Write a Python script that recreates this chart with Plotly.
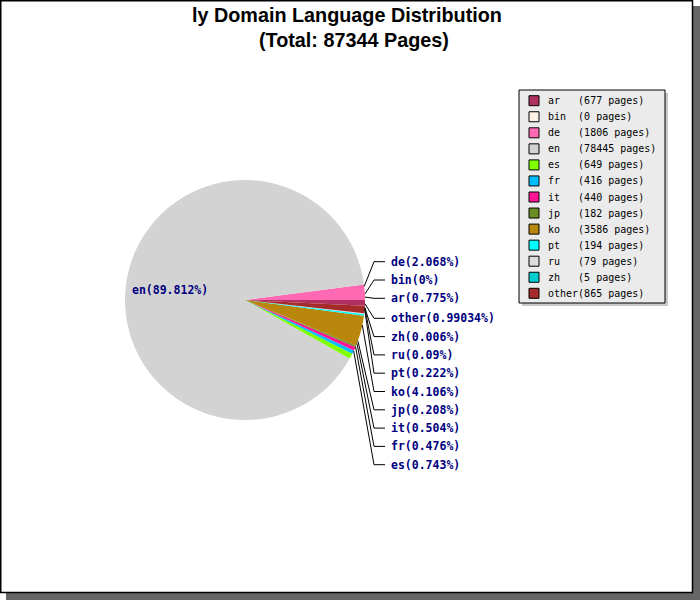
import math
import plotly.graph_objects as go

# ---- data ----
languages = ["ar", "bin", "de", "en", "es", "fr", "it", "jp", "ko", "pt", "ru", "zh", "other"]
pages = [677, 0, 1806, 78445, 649, 416, 440, 182, 3586, 194, 79, 5, 865]
pct_labels = ["0.775%", "0%", "2.068%", "89.812%", "0.743%", "0.476%", "0.504%",
              "0.208%", "4.106%", "0.222%", "0.09%", "0.006%", "0.99034%"]
colors = ["#B03060", "#FDF0E6", "#FF69B4", "#D3D3D3", "#7FFF00", "#00BFFF", "#FF1493",
          "#6B8E23", "#B8860B", "#00FFFF", "#DCDCDC", "#00CED1", "#A52A2A"]
title_line1 = "ly Domain Language Distribution"
title_line2 = "(Total: 87344 Pages)"

FW, FH = 700, 600
CX, CY, R = 245, 300, 120


def px(x):
    return x / FW


def py(y):
    return 1 - y / FH


fig = go.Figure()
fig.add_trace(go.Pie(
    labels=languages, values=pages, sort=False, direction="counterclockwise",
    rotation=90, textinfo="none", hoverinfo="label+value+percent",
    marker=dict(colors=colors, line=dict(width=0)),
    domain=dict(x=[px(CX - R), px(CX + R)], y=[py(CY + R), py(CY - R)]),
    showlegend=False,
))

shapes = []
annotations = []

# frame with drop shadow
shapes.append(dict(type="rect", xref="paper", yref="paper", layer="below",
                   x0=px(6), x1=px(702), y0=py(602), y1=py(6),
                   fillcolor="#666666", line=dict(width=0)))
shapes.append(dict(type="rect", xref="paper", yref="paper", layer="below",
                   x0=px(0.75), x1=px(692.5), y0=py(592.5), y1=py(0.75),
                   fillcolor="white", line=dict(color="black", width=1.5)))

# title
title_font = dict(family="Liberation Sans, Arial", size=19.8, color="black", weight="bold")
annotations.append(dict(text=title_line1, x=px(346.5), y=py(15), xref="paper", yref="paper",
                        showarrow=False, xanchor="center", yanchor="middle", font=title_font))
annotations.append(dict(text=title_line2, x=px(354), y=py(40), xref="paper", yref="paper",
                        showarrow=False, xanchor="center", yanchor="middle", font=title_font))

# slice mid angles (counterclockwise from 3 o'clock)
total = sum(pages)
mids = []
acc = 0
for v in pages:
    mids.append((acc + v / 2) / total * 360.0)
    acc += v

label_font = dict(family="DejaVu Sans Mono", size=11.5, color="#000080", weight="bold")
KNEE_X, END_X, TEXT_X = 374, 385, 389
STEP = 18.3
UPPER_START, LOWER_START = 298.3, 318.3

big = max(range(len(pages)), key=lambda i: pages[i])
upper = sorted([i for i in range(len(pages)) if i != big and mids[i] < 90], key=lambda i: mids[i])
lower = sorted([i for i in range(len(pages)) if i != big and mids[i] >= 270], key=lambda i: -mids[i])

placements = {}
for k, i in enumerate(upper):
    placements[i] = UPPER_START - k * STEP
for k, i in enumerate(lower):
    placements[i] = LOWER_START + k * STEP

for i, ly in placements.items():
    a = math.radians(mids[i])
    ex, ey = CX + R * math.cos(a), CY - R * math.sin(a)
    shapes.append(dict(type="path", xref="paper", yref="paper",
                       path=f"M {px(ex)},{py(ey)} L {px(KNEE_X)},{py(ly)} L {px(END_X)},{py(ly)}",
                       line=dict(color="black", width=1)))
    annotations.append(dict(text=f"{languages[i]}({pct_labels[i]})", x=px(TEXT_X), y=py(ly),
                            xref="paper", yref="paper", showarrow=False,
                            xanchor="left", yanchor="middle", font=label_font))

# label for the big slice, placed inside at its mid-angle edge
a = math.radians(mids[big])
ex, ey = CX + R * math.cos(a), CY - R * math.sin(a)
annotations.append(dict(text=f"{languages[big]}({pct_labels[big]})", x=px(ex + 4), y=py(ey + 7),
                        xref="paper", yref="paper", showarrow=False,
                        xanchor="left", yanchor="middle", font=label_font))

# legend (drawn box)
LX0, LX1, LY0, LY1 = 519, 665, 90, 303
shapes.append(dict(type="rect", xref="paper", yref="paper",
                   x0=px(LX0 + 3), x1=px(LX1 + 3), y0=py(LY1 + 3), y1=py(LY0 + 3),
                   fillcolor="#C8C8C8", line=dict(width=0)))
shapes.append(dict(type="rect", xref="paper", yref="paper",
                   x0=px(LX0), x1=px(LX1), y0=py(LY1), y1=py(LY0),
                   fillcolor="#EBEBEB", line=dict(color="black", width=1)))
ROW0, ROWSTEP = 100.7, 16.05
for i, lab in enumerate(languages):
    yc = ROW0 + i * ROWSTEP
    shapes.append(dict(type="rect", xref="paper", yref="paper",
                       x0=px(529), x1=px(539), y0=py(yc + 5), y1=py(yc - 5),
                       fillcolor=colors[i], line=dict(color="black", width=1)))
    txt = f"{lab:<5}({pages[i]} pages)".replace(" ", "\u00a0")
    annotations.append(dict(text=txt, x=px(546), y=py(yc), xref="paper", yref="paper",
                            showarrow=False, xanchor="left", yanchor="middle",
                            font=dict(family="DejaVu Sans Mono", size=10, color="black")))

fig.update_layout(
    width=FW, height=FH, autosize=False,
    margin=dict(l=0, r=0, t=0, b=0),
    paper_bgcolor="white", plot_bgcolor="white",
    shapes=shapes, annotations=annotations,
)
fig.write_html("out.html", config={"displayModeBar": False},
               post_script="document.body.style.margin='0';")
